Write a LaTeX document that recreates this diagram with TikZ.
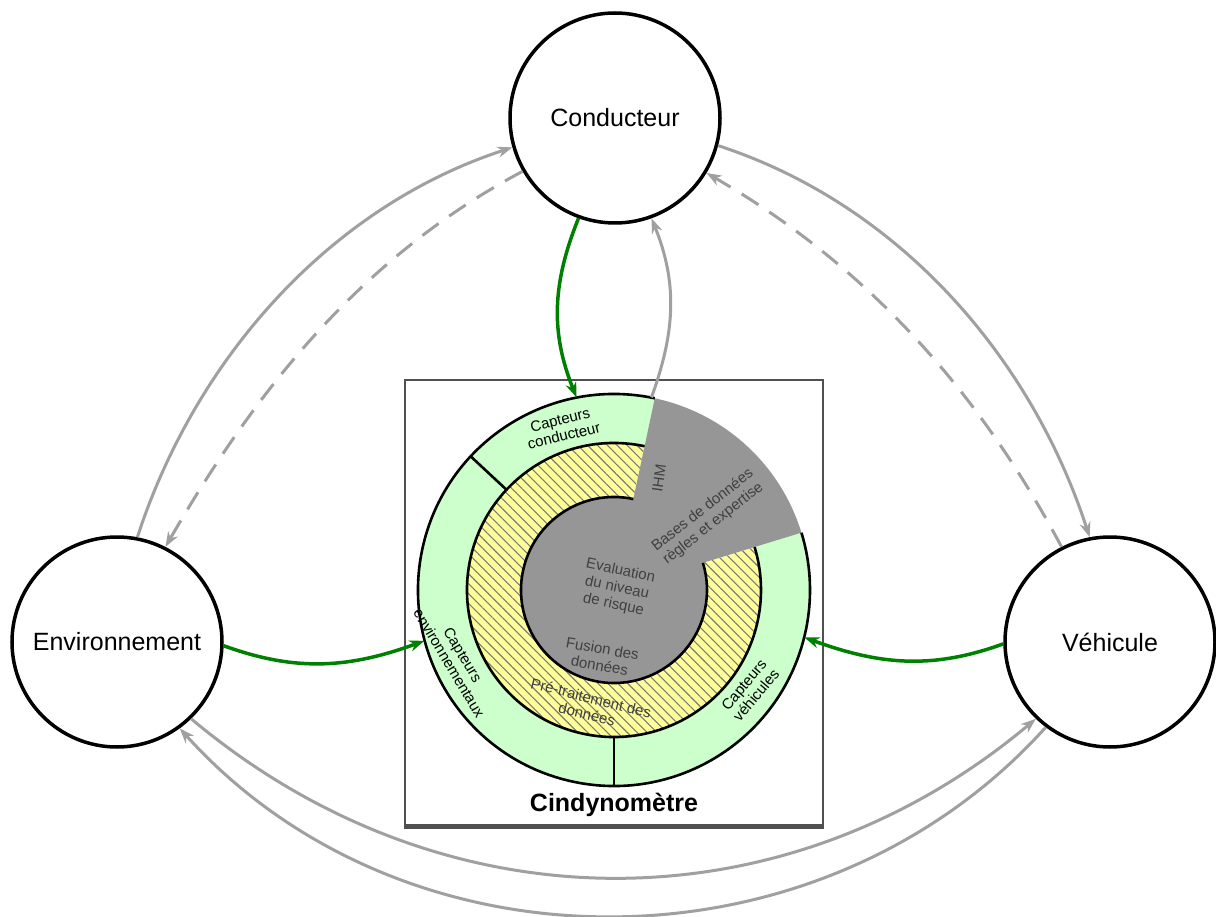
\documentclass[tikz,border=0pt]{standalone}
\usepackage{fontspec}
\setmainfont{Liberation Sans}
\usetikzlibrary{arrows.meta,patterns.meta}
\definecolor{ringgreen}{HTML}{CCFFCC}
\definecolor{ringyellow}{HTML}{FFFF99}
\definecolor{coregray}{HTML}{969696}
\definecolor{linkgray}{HTML}{A0A0A0}
\definecolor{linkgreen}{HTML}{008000}
\definecolor{labelgray}{HTML}{404040}
\definecolor{hatchgray}{HTML}{7A7A7A}
\definecolor{boxgray}{HTML}{505050}
\begin{document}
\begin{tikzpicture}[x=1pt,y=-1pt,
  actor/.style={circle,draw=black,line width=3.5pt,minimum size=210pt,inner sep=0pt,font=\fontsize{25}{28}\selectfont},
  graylink/.style={draw=linkgray,line width=3pt,-{Stealth[length=15pt,width=11pt]}},
  dashlink/.style={graylink,dash pattern=on 20pt off 13pt},
  greenlink/.style={draw=linkgreen,line width=3.5pt,-{Stealth[length=15pt,width=11pt]}},
  ringlabel/.style={font=\fontsize{15}{16}\selectfont,align=center,text=black,inner sep=0pt},
  corelabel/.style={font=\fontsize{15}{17}\selectfont,align=center,text=labelgray,inner sep=0pt},
  ringline/.style={draw=black,line width=2.6pt},
]
\useasboundingbox (0,0) rectangle (1216,917);
\fill[white] (0,0) rectangle (1216,917);

% frame of the Cindynometre
\node[draw=boxgray,line width=2.5pt,minimum width=418pt,minimum height=445pt,inner sep=0pt] (box) at (614,602.5) {};
\draw[boxgray,line width=4.5pt] (box.south west) -- (box.south east);

% helper for the ring
\node[circle,minimum size=392pt,inner sep=0pt] (R) at (614,590) {};

\begin{scope}[shift={(614,590)},y=1pt]
  % green sensor ring
  \fill[ringgreen] (78:196) arc[start angle=78,end angle=377,radius=196]
     -- (377:147) arc[start angle=377,end angle=78,radius=147] -- cycle;
  % yellow hatched ring
  \fill[ringyellow] (78:147) arc[start angle=78,end angle=377,radius=147]
     -- (377:93) arc[start angle=377,end angle=78,radius=93] -- cycle;
  \fill[pattern={Lines[angle=-45,distance=7pt,line width=1.1pt]},pattern color=hatchgray]
     (78:147) arc[start angle=78,end angle=377,radius=147]
     -- (377:93) arc[start angle=377,end angle=78,radius=93] -- cycle;
  % gray core
  \fill[coregray] (0,0) circle[radius=93];
  \fill[coregray] (0,0) -- (17:196) arc[start angle=17,end angle=78,radius=196] -- cycle;
  % outlines
  \draw[ringline] (78:196) arc[start angle=78,end angle=377,radius=196];
  \draw[ringline] (78:147) arc[start angle=78,end angle=377,radius=147];
  \draw[ringline] (78:93) arc[start angle=78,end angle=377,radius=93];
  \draw[ringline] (137:147) -- (137:196);
  \draw[ringline,line width=1.8pt] (270:147) -- (270:196);
\end{scope}

% labels in the ring
\node[ringlabel,rotate=14] (lc) at (562,428) {Capteurs\\conducteur};
\node[ringlabel,rotate=-59] (le) at (456,659) {Capteurs\\environnementaux};
\node[ringlabel,rotate=50] (lv) at (750,690) {Capteurs\\véhicules};
\node[corelabel,rotate=82] (lihm) at (659,478) {IHM};
\node[corelabel,rotate=38] (lbd) at (708,517) {Bases de données\\règles et expertise};
\node[corelabel,rotate=-12] (lev) at (617,588) {Evaluation\\du niveau\\de risque};
\node[corelabel,rotate=-10] (lfu) at (601,657) {Fusion des\\données};
\node[corelabel,rotate=-14] (lpt) at (589,706) {Pré-traitement des\\données};
\node[font=\bfseries\fontsize{25}{28}\selectfont,inner sep=0pt] (cind) at (614,805) {Cindynomètre};

% actors
\node[actor] (C) at (615,118) {Conducteur};
\node[actor] (E) at (117,642) {Environnement};
\node[actor] (V) at (1110,642) {Véhicule};

% green sensing links
\draw[greenlink] (C.-110) to[out=-112,in=112] (R.101);
\draw[greenlink] (E.-2) to[out=-20,in=-160] (R.195);
\draw[greenlink] (V.181) to[out=200,in=-20] (R.-14);
% HMI link
\draw[graylink] (R.79) to[out=70,in=-68] (C.-70);

% interactions between actors
\draw[graylink] (E.79) to[out=72,in=198,looseness=0.9] (C.196);
\draw[dashlink] (C.210) to[out=208,in=60,looseness=0.9] (E.63);
\draw[graylink] (C.-15) to[out=-18,in=108,looseness=0.9] (V.101);
\draw[dashlink] (V.117) to[out=118,in=-30,looseness=0.9] (C.-31);
\draw[graylink] (E.-46) to[out=-40,in=-140] (V.226);
\draw[graylink] (V.233) to[out=-132,in=-48] (E.-54);
\end{tikzpicture}
\end{document}
